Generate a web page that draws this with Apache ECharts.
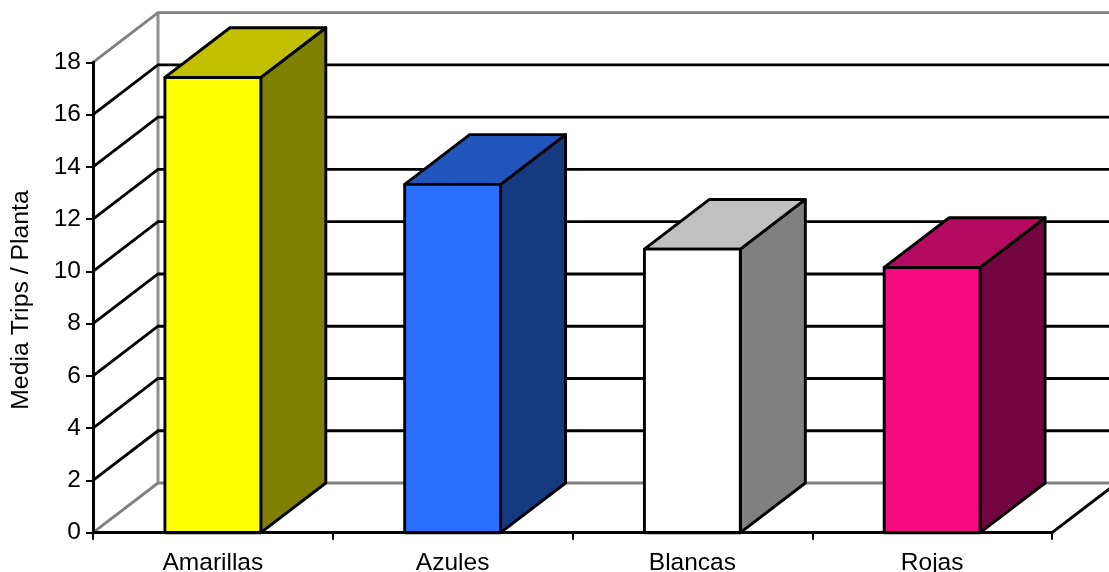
<!DOCTYPE html>
<html>
<head>
<meta charset="utf-8">
<style>html,body{margin:0;padding:0;background:#fff}#chart{width:1109px;height:572px}</style>
<script src="https://cdn.jsdelivr.net/npm/echarts@6/dist/echarts.min.js"></script>
</head>
<body>
<div id="chart"></div>
<script>
// Mean thrips per plant by trap colour
const categories = ['Amarillas', 'Azules', 'Blancas', 'Rojas'];
const values = [17.42, 13.33, 10.85, 10.15];
const gridTicks = [0, 2, 4, 6, 8, 10, 12, 14, 16, 18];
const frontColors = ['#ffff00', '#2a6fff', '#ffffff', '#f50a82'];
const topColors = ['#c0c000', '#2255bb', '#c0c0c0', '#b40a60'];
const sideColors = ['#808000', '#163a80', '#808080', '#750540'];

// Oblique projection used for the box faces and the chart walls
const DEPTH_X = 65;
const DEPTH_Y = 49.7;
const BAR_SHARE = 0.4;
const GREY = '#808080';
const STROKE = 2.9;

function wallItem(params, api) {
  const tick = api.value(0);
  const cs = params.coordSys;
  const left = cs.x, right = cs.x + cs.width;
  const y = api.coord([0, tick])[1];
  const edge = tick === 0 || tick === 18 ? GREY : '#000';
  const children = [{
    type: 'polyline',
    shape: { points: [[left, y], [left + DEPTH_X, y - DEPTH_Y], [right + DEPTH_X, y - DEPTH_Y]] },
    style: { fill: 'none', stroke: edge, lineWidth: STROKE }
  }];
  if (tick === 0) {
    const top = cs.y;
    children.push({
      type: 'line',
      shape: { x1: left + DEPTH_X, y1: y - DEPTH_Y, x2: left + DEPTH_X, y2: top - DEPTH_Y },
      style: { stroke: '#909090', lineWidth: 3 }
    });
    children.push({
      type: 'line',
      shape: { x1: right, y1: y, x2: right + DEPTH_X, y2: y - DEPTH_Y },
      style: { stroke: '#000', lineWidth: STROKE }
    });
  }
  return { type: 'group', children };
}

function boxItem(params, api) {
  const i = api.value(0);
  const base = api.coord([i, 0]);
  const head = api.coord([i, api.value(1)]);
  const w = api.size([1, 0])[0] * BAR_SHARE;
  const x0 = base[0] - w / 2, x1 = base[0] + w / 2;
  const y0 = base[1], y1 = head[1];
  const border = { stroke: '#000', lineWidth: STROKE, lineJoin: 'round' };
  const face = (points, fill) => ({
    type: 'polygon',
    shape: { points },
    style: Object.assign({ fill }, border)
  });
  return {
    type: 'group',
    children: [
      face([[x1, y0], [x1 + DEPTH_X, y0 - DEPTH_Y], [x1 + DEPTH_X, y1 - DEPTH_Y], [x1, y1]], sideColors[i]),
      face([[x0, y1], [x0 + DEPTH_X, y1 - DEPTH_Y], [x1 + DEPTH_X, y1 - DEPTH_Y], [x1, y1]], topColors[i]),
      face([[x0, y0], [x0, y1], [x1, y1], [x1, y0]], frontColors[i])
    ]
  };
}

const chart = echarts.init(document.getElementById('chart'), null, { renderer: 'canvas' });
const textStyle = { color: '#000', fontFamily: 'Liberation Sans', fontSize: 24.5 };

chart.setOption({
  animation: false,
  backgroundColor: '#fff',
  grid: { left: 93, right: 57, top: 62.3, bottom: 39.3, outerBoundsMode: 'none' },
  xAxis: {
    type: 'category',
    data: categories,
    z: 5,
    axisLine: { lineStyle: { color: '#000', width: 3 } },
    axisTick: { show: true, length: 7, lineStyle: { color: '#000', width: 2 } },
    axisLabel: Object.assign({ margin: 18, interval: 0 }, textStyle),
    splitLine: { show: false }
  },
  yAxis: {
    type: 'value',
    min: 0,
    max: 18,
    interval: 2,
    z: 5,
    name: 'Media Trips / Planta',
    nameLocation: 'middle',
    nameGap: 59,
    nameRotate: 90,
    nameTextStyle: Object.assign({}, textStyle, { fontSize: 24.8, padding: [0, 5, 0, 0] }),
    axisLine: { show: true, lineStyle: { color: '#000', width: 3 } },
    axisTick: { show: true, length: 7, lineStyle: { color: '#000', width: 2 } },
    axisLabel: Object.assign({ margin: 12, padding: [2, 0, 0, 0] }, textStyle),
    splitLine: { show: false }
  },
  series: [
    {
      type: 'custom',
      name: 'Paredes',
      silent: true,
      renderItem: wallItem,
      encode: { x: -1, y: 0 },
      data: gridTicks.map(t => [t]),
      z: 1
    },
    {
      type: 'custom',
      name: 'Media Trips / Planta',
      renderItem: boxItem,
      encode: { x: 0, y: 1 },
      data: values.map((v, i) => [i, v]),
      z: 2
    }
  ]
});
</script>
</body>
</html>
